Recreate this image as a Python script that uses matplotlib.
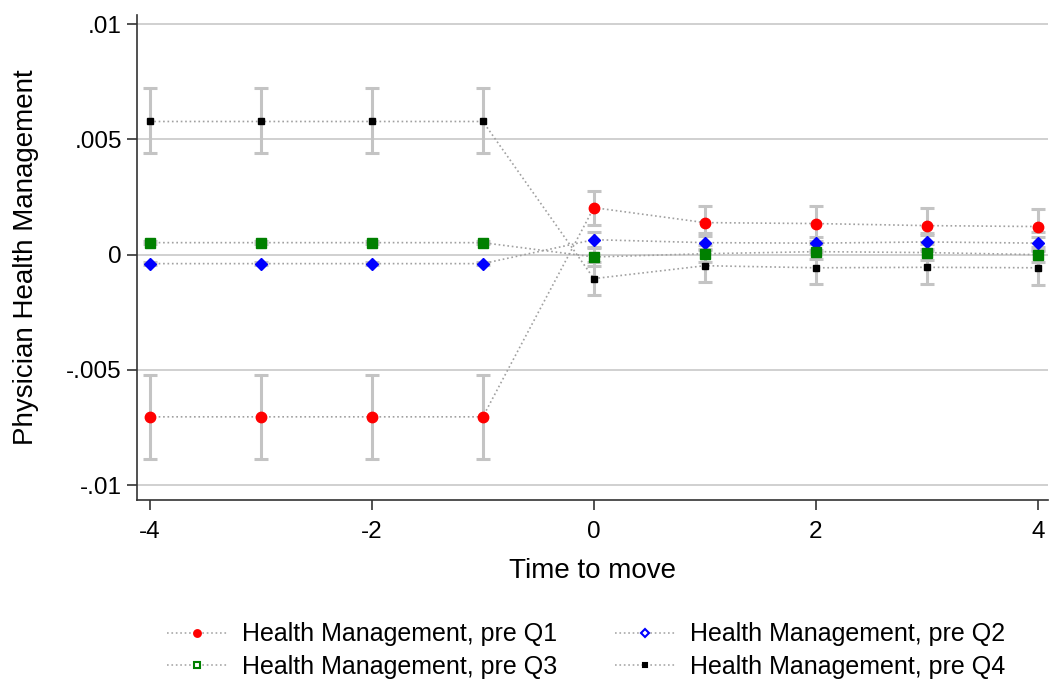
import matplotlib
matplotlib.use("Agg")
import matplotlib.pyplot as plt
import numpy as np

plt.rcParams['font.family'] = ['Liberation Sans', 'DejaVu Sans']

time = [-4, -3, -2, -1, 0, 1, 2, 3, 4]
labels = ["Health Management, pre Q1", "Health Management, pre Q2",
          "Health Management, pre Q3", "Health Management, pre Q4"]

q1 = [-0.00704, -0.00704, -0.00704, -0.00704, 0.00204, 0.00139, 0.00135, 0.00126, 0.00122]
q1_lo = [-0.00887, -0.00887, -0.00887, -0.00887, 0.00130, 0.00096, 0.00060, 0.00096, 0.00100]
q1_hi = [-0.00522, -0.00522, -0.00522, -0.00522, 0.00278, 0.00213, 0.00209, 0.00204, 0.00196]

q2 = [-0.00039, -0.00039, -0.00039, -0.00039, 0.00065, 0.00052, 0.00050, 0.00055, 0.00050]
q2_lo = [-0.00045, -0.00045, -0.00045, -0.00045, 0.00030, 0.00025, 0.00022, 0.00025, 0.00022]
q2_hi = [-0.00033, -0.00033, -0.00033, -0.00033, 0.00100, 0.00080, 0.00078, 0.00085, 0.00078]

q3 = [0.00052, 0.00052, 0.00052, 0.00052, -0.00010, 0.00004, 0.00013, 0.00009, 0.00000]
q3_lo = [0.00046, 0.00046, 0.00046, 0.00046, -0.00050, -0.00030, -0.00020, -0.00025, -0.00030]
q3_hi = [0.00058, 0.00058, 0.00058, 0.00058, 0.00035, 0.00040, 0.00045, 0.00045, 0.00035]

q4 = [0.00578, 0.00578, 0.00578, 0.00578, -0.00104, -0.00048, -0.00057, -0.00055, -0.00057]
q4_lo = [0.00443, 0.00443, 0.00443, 0.00443, -0.00174, -0.00117, -0.00126, -0.00126, -0.00130]
q4_hi = [0.00722, 0.00722, 0.00722, 0.00722, -0.00034, 0.00020, 0.00012, 0.00016, 0.00016]

series = [
    (q1, q1_lo, q1_hi, 'red', 'o', 7.5),
    (q2, q2_lo, q2_hi, 'blue', 'D', 6),
    (q3, q3_lo, q3_hi, 'green', 's', 6.5),
    (q4, q4_lo, q4_hi, 'black', 's', 4.2),
]

fig = plt.figure(figsize=(10.5, 6.84), dpi=100)
ax = fig.add_axes([0.130, 0.269, 0.868, 0.709])

yticks = [-0.01, -0.005, 0, 0.005, 0.01]
ytl = ["-.01", "-.005", "0", ".005", ".01"]
for yt in yticks:
    ax.axhline(yt, color='#c8c8c8', lw=1.2, zorder=0)

handles = []
for (v, lo, hi, c, m, ms) in series:
    v = np.array(v); lo = np.array(lo); hi = np.array(hi)
    ax.errorbar(time, v, yerr=[v - lo, hi - v], fmt='none', ecolor='#c4c4c4',
                elinewidth=2.2, capsize=5, capthick=2.2, zorder=2)
for (v, lo, hi, c, m, ms), lab in zip(series, labels):
    ax.plot(time, v, linestyle=':', color='#a0a0a0', lw=1.2, zorder=3)
    ax.plot(time, v, linestyle='none', marker=m, color=c, markersize=ms, zorder=4)
    hollow = c in ('blue', 'green')
    h, = ax.plot([], [], linestyle=':', color='#a8a8a8', lw=1.2, marker=m,
                 markerfacecolor='white' if hollow else c, markeredgecolor=c,
                 markeredgewidth=1.5, markersize=ms * 0.65, label=lab)
    handles.append(h)

ax.set_xlim(-4.12, 4.09)
ax.set_ylim(-0.01065, 0.0104)
ax.set_yticks(yticks)
ax.set_yticklabels(ytl)
ax.set_xticks([-4, -2, 0, 2, 4])
ax.set_xticklabels(["-4", "-2", "0", "2", "4"])
ax.tick_params(axis='both', labelsize=17.5, length=7, width=1.2, color='#333333')
ax.tick_params(axis='x', pad=8)
for s in ['top', 'right']:
    ax.spines[s].set_visible(False)
for s in ['left', 'bottom']:
    ax.spines[s].set_color('#333333')
    ax.spines[s].set_linewidth(1.2)

ax.set_xlabel("Time to move", fontsize=20, labelpad=11)
ax.set_ylabel("Physician Health Management", fontsize=20, labelpad=20)

order = [0, 2, 1, 3]
fig.legend(handles=[handles[i] for i in order], labels=[labels[i] for i in order],
           loc='upper center', bbox_to_anchor=(0.558, 0.123),
           ncol=2, frameon=False, fontsize=18, handlelength=2.4, handletextpad=0.6,
           columnspacing=2.3, labelspacing=0.35)

fig.savefig("out.png", dpi=100)
